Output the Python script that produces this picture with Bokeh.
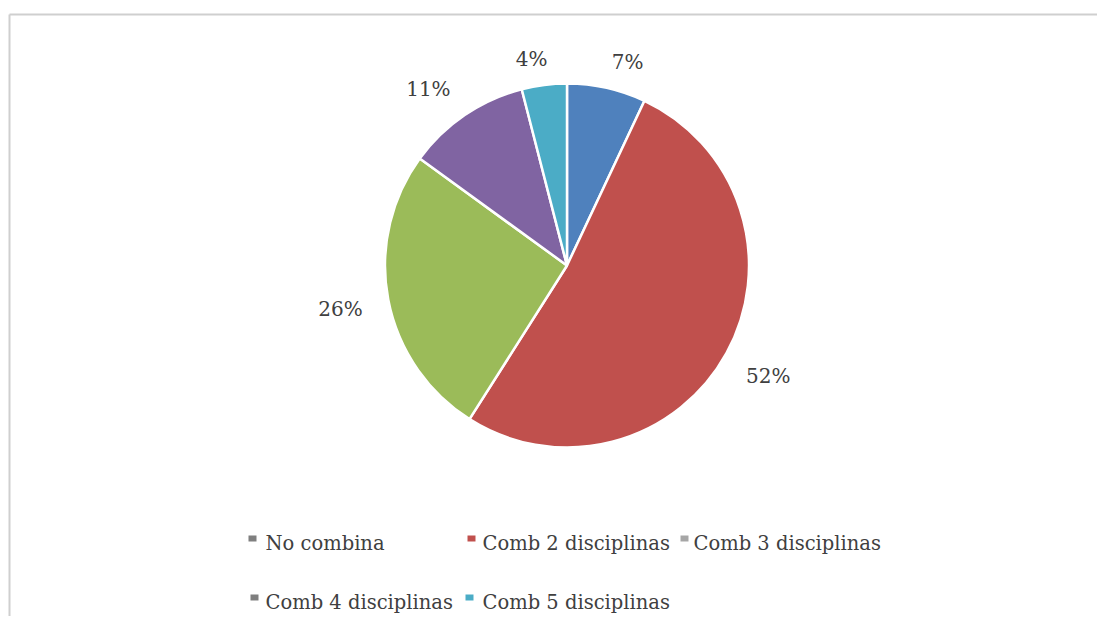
import numpy as np
from bokeh.plotting import figure
from bokeh.models import Range1d, ColumnDataSource
from bokeh.core.properties import value
from bokeh.embed import file_html
from bokeh.resources import INLINE

# ---- data ----
categories = ["No combina", "Comb 2 disciplinas", "Comb 3 disciplinas",
              "Comb 4 disciplinas", "Comb 5 disciplinas"]
shares = [7, 52, 26, 11, 4]
slice_colors = ["#4F81BD", "#C0504D", "#9BBB59", "#8064A2", "#4BACC6"]
legend_marker_colors = ["#7F7F7F", "#C0504D", "#A6A6A6", "#7F7F7F", "#4BACC6"]

# ---- layout (screen-like coordinates: x right, y = H - screen_y) ----
W, H = 1097, 616
CX, CY, R = 566.5, H - 265.0, 182.0
FONT = "DejaVu Serif"
TXT = "#404040"
label_nudge_deg = [-4.0, 0.0, 0.0, 4.0, 2.5]

p = figure(width=W, height=H, output_backend="svg", toolbar_location=None,
           x_range=Range1d(0, W), y_range=Range1d(0, H),
           x_axis_type=None, y_axis_type=None, min_border=0,
           outline_line_color=None, background_fill_color="white",
           border_fill_color="white")
p.grid.visible = False

# frame border (top + left) of the original chart area
p.segment(x0=[9, 9], y0=[H - 14, H - 14], x1=[W, 9], y1=[H - 14, 0],
          line_color="#CFCFCF", line_width=2)

vals = np.array(shares, dtype=float)
frac = vals / vals.sum()
cum_after = np.cumsum(frac)
cum_before = cum_after - frac
a_start = np.pi / 2 - 2 * np.pi * cum_before   # clockwise from 12 o'clock
a_end = np.pi / 2 - 2 * np.pi * cum_after

src = ColumnDataSource(dict(start=a_end, end=a_start, color=slice_colors))
p.wedge(x=CX, y=CY, radius=R, start_angle="start", end_angle="end",
        fill_color="color", line_color="white", line_width=2.5, source=src)

# data labels, outside end
mid = (a_start + a_end) / 2 + np.radians(label_nudge_deg)
labels = [f"{int(v)}%" for v in shares]
wid = np.array([len(s) * 21.0 for s in labels])
hgt = 17.0
gap = 16.0
dist = R + gap + 0.5 * (wid * np.abs(np.cos(mid)) + hgt * np.abs(np.sin(mid)))
lx = CX + dist * np.cos(mid)
ly = CY + dist * np.sin(mid)
p.text(x=lx, y=ly, text=labels, text_align="center", text_baseline="middle",
       text_font=value(FONT), text_font_size="20px", text_color=TXT)

# legend (3 + 2 items)
leg_text_x = [265, 482, 693, 265, 482]
leg_mark_x = [252, 471, 684, 254, 469]
leg_y = [H - 543, H - 543, H - 543, H - 602, H - 602]
p.rect(x=leg_mark_x, y=[y + 5 for y in leg_y], width=8, height=6,
       fill_color=legend_marker_colors, line_color=None)
p.text(x=leg_text_x, y=leg_y, text=categories, text_align="left",
       text_baseline="middle", text_font=value(FONT), text_font_size="19.5px",
       text_color=TXT)

open("out.html", "w").write(file_html(p, INLINE))
